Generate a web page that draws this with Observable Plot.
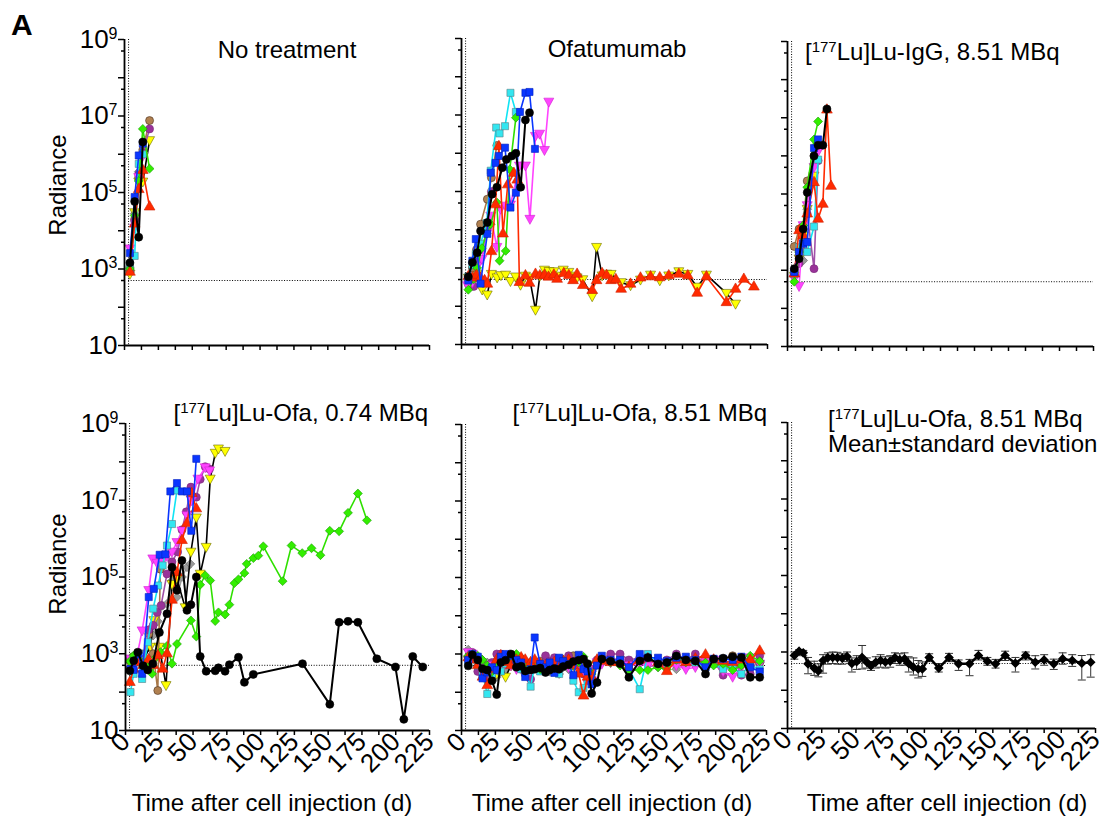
<!DOCTYPE html>
<html><head><meta charset="utf-8">
<script src="https://cdn.jsdelivr.net/npm/d3@7"></script>
<script src="https://cdn.jsdelivr.net/npm/@observablehq/plot@0.6"></script>
<style>
body{margin:0;background:#fff;}
#root{position:relative;width:1120px;height:820px;overflow:hidden;background:#fff;font-family:Arial,"Liberation Sans",sans-serif;}
.panel{position:absolute;}
#overlay{position:absolute;left:0;top:0;pointer-events:none;}
</style>
</head><body><div id="root"></div>
<script>
// ---------- DATA: [day, radiance] ----------
// Panel: No treatment
const nt_grey    = [[4,800],[7.5,2.8e4],[10.5,3.5e5]];
const nt_yellow  = [[4,740],[7.5,3e4],[10.5,1.9e5],[13.5,1.9e5],[18.5,2.3e6]];
const nt_brown   = [[4,1100],[7.5,2e4],[10.5,2.5e5],[13.5,1.3e6],[18.5,7.6e6]];
const nt_purple  = [[4,900],[7.5,1.8e4],[10.5,3e5],[13.5,1.1e6],[18.5,4.6e6]];
const nt_magenta = [[4,3400],[7.5,1.2e4],[10.5,2.5e5],[13.5,9e5]];
const nt_cyan    = [[4,1300],[7.5,2.2e3],[10.5,5.6e5],[13.5,1e6]];
const nt_green   = [[4,1000],[7.5,2.5e4],[10.5,2e5],[13.5,4.6e6],[18.5,4.2e5]];
const nt_red     = [[4,830],[7.5,1.5e4],[10.5,1.2e5],[13.5,3.8e5],[18.5,4.2e4]];
const nt_blue    = [[4,2600],[7.5,7.6e4],[10.5,9.3e5],[13.5,1.9e6]];
const nt_black   = [[4,1450],[7.5,5.8e4],[10.5,6.8e3],[13.5,2.1e6]];

// Panel: Ofatumumab
const of_grey    = [[5,480],[9,1300],[12,2500],[15,1.2e4],[18.5,1.5e4]];
const of_purple  = [[5,380],[9,330],[12,1500],[15,3000],[19,1.1e4],[22,1e5]];
const of_brown   = [[5,600],[8,1000],[11,3000],[14,1.4e4],[19,6.3e4],[22,2.3e5],[26,1.6e6]];
const of_yellow  = [[5,550],[9,450],[11.5,700],[15.2,270],[18.9,200],[22,690],[26.2,560],[29,640],[32.4,660],[36,450],[39.7,590],[43.4,360],[47,620],[50,560],[54.4,80],[57.6,620],[61,890],[64.4,820],[67.9,810],[70.3,620],[74.8,890],[78.9,780],[82,620],[85,560],[89.2,500],[96.1,180],[99.3,3500],[103.4,630],[106.7,700],[110,690],[117.4,420],[124.3,350],[131.6,490],[139,660],[145.8,470],[152.4,630],[159.8,810],[166.4,690],[173.3,320],[180.1,660],[194.8,220],[201.5,115]];
const of_magenta = [[4.5,350],[8,420],[11.5,1100],[15,1700],[18.5,8e3],[21.5,2.3e4],[26,3.5e3],[28.7,3.5e4],[32.4,4.2e4],[36,4.5e4],[42.6,4.7e5],[47,4.7e5],[50.3,1.9e4],[54.4,2.8e6],[57.4,3.2e6],[61,1.2e6],[64.2,2.2e7]];
const of_cyan    = [[5,600],[8,1200],[10.5,2300],[14,4300],[18.5,1.5e4],[21.5,3.5e5],[25.5,4.7e6],[28,3.3e6],[32,5.1e6],[36,3.8e7],[40,1.2e7]];
const of_green   = [[5,270],[9,510],[11.5,1000],[15,3300],[18.5,8e3],[21.5,1.4e4],[26,5.2e4],[28,1.55e3],[32.5,2.8e3],[35.5,3.8e5],[40,8.5e6]];
const of_red     = [[5,600],[8,550],[11,650],[14,550],[17,470],[19,380],[22,2700],[25,4.5e4],[27.5,1.5e6],[30.5,7.8e3],[34,1.5e5],[38.5,3e5],[41,2e5],[42.6,420],[47,630],[50,400],[54.4,690],[57.6,630],[61,650],[64,580],[67.9,660],[70.3,510],[75.2,720],[78.9,640],[82,470],[85,690],[89.2,350],[96.1,260],[99.3,470],[103.4,720],[106.7,640],[110,470],[113.5,500],[117.4,280],[124.3,380],[131.6,550],[139,590],[145.8,560],[152.4,630],[159.8,690],[166.4,630],[173.3,220],[180.1,590],[194.8,125],[201.5,280],[207.6,510],[215,320]];
const of_blue    = [[5,470],[8,1550],[10.5,5700],[14,390],[19,7800],[21.5,3.1e5],[25,5.6e5],[27.5,8.5e5],[32,1.4e6],[36,3.8e4],[40,9.3e4],[43,1.2e7],[47,3.8e7],[50,4e7],[54,1.3e6]];
const of_black   = [[5,590],[8,1400],[11.5,2500],[14,9300],[19,1.55e4],[22.5,8.5e4],[26,1.3e5],[30,4.2e5],[33,6.9e5],[37,8.5e5],[40,1e6],[43.5,1.3e5],[47,7.4e6],[50,1.15e7]];

// Panel: [177Lu]Lu-IgG, 8.51 MBq
const ig_grey    = [[5,900],[8.5,1500],[11.5,1800],[14.5,4e4]];
const ig_yellow  = [[5,700],[8.5,2000],[11.5,8e3],[14.5,4e4],[19.5,3e5]];
const ig_brown   = [[5,4200],[8.5,1.2e4],[11.5,1.5e4],[14.5,2.2e5],[19.5,1e6]];
const ig_purple  = [[5,1000],[8.5,1500],[11.5,4e3],[14.5,3e4],[19.5,1.1e3],[22.5,7.5e5]];
const ig_magenta = [[5,600],[8.5,380],[11.5,1.5e4],[14.5,5e4],[19.5,5e5],[22.5,1.3e6]];
const ig_cyan    = [[5,800],[8.5,4000],[11.5,6e3],[14.5,3e3],[19.5,1.4e4],[22.5,8e5]];
const ig_green   = [[5,500],[8.5,3000],[11.5,1.5e4],[14.5,1.5e5],[19.5,2.7e6],[22.5,8e6]];
const ig_red     = [[5,800],[8.5,1.1e4],[11.5,8e3],[14.5,3e4],[19.5,2e5],[22.5,2.2e4],[26,5.4e4],[29,1.6e7],[32,1.6e5]];
const ig_blue    = [[5,900],[8.5,3000],[11.5,5e3],[14.5,5.5e3],[19.5,1.6e6],[22.5,2.7e6]];
const ig_black   = [[5,1100],[8.5,2000],[11.5,1.2e4],[14.5,1.1e5],[19.5,1e6],[22.5,1.9e6],[26,1.9e6],[29,1.7e7]];

// Panel: [177Lu]Lu-Ofa, 0.74 MBq
const lo_grey    = [[3.2,600],[9,800],[13,500],[17,1500],[20.5,3e3],[24,7e3],[27.5,1.8e4],[30.7,2e4],[34.4,8e4],[38.1,3e4],[41.8,1e5],[45.5,1.8e5],[48,2.2e5]];
const lo_brown   = [[3.2,700],[6.1,850],[9,900],[13,600],[17.2,3.3e3],[20.5,1e3],[23.9,110],[25.8,1.6e5],[30,3.8e5]];
const lo_purple  = [[3.2,400],[9,900],[13,600],[17.2,4.2e3],[20.5,5.5e3],[23.4,1.2e4],[26.3,1.8e4],[30.7,1.2e5],[34.4,2.5e5],[38.6,4.5e5],[41.8,1.7e6],[45,5e6],[48.4,2.2e7],[52.4,1.2e7],[55.3,3.5e7],[59,7.5e7],[62.2,6.5e7]];
const lo_magenta = [[3.2,740],[8,700],[12.3,4e3],[17.2,4.5e4],[20.2,3e5],[23.4,2.3e5],[27,2.5e5],[30.7,3.5e5],[34.4,4.5e5],[38.1,8e5],[41.8,1.6e6],[45.5,4e6],[49,9.8e6],[53.6,3.6e7],[59,7.1e7],[62.2,5.9e7]];
const lo_cyan    = [[3.7,100],[6,300],[9,700],[12.3,220],[16.5,2e3],[20.5,1.5e4],[24.1,6e4],[27.5,2e5],[30.7,6.6e5],[34.4,2.4e6],[38.1,1.8e7]];
const lo_red     = [[3.2,180],[6,400],[9,600],[13,500],[17,700],[20.5,500],[23.9,900],[27.5,400],[30.7,1000],[34.4,2.5e4],[38.1,1.3e5],[41.8,9e5],[45.5,2.5e6],[49,1.5e7],[52.4,6e6]];
const lo_blue    = [[3.7,400],[6,380],[9.8,1000],[12.3,300],[17.2,3e4],[20.9,4.9e4],[25.3,3.8e5],[29.5,3.9e5],[33.2,1.7e7],[38.1,2.8e7],[41.8,1.7e7],[45.5,1.7e7],[48.7,1.6e6],[52.4,1.2e8]];
const lo_yellow  = [[3.5,560],[7,800],[10,1000],[13,700],[18.4,1500],[21,7400],[25,1500],[30,150],[34.4,6.5e4],[38,9e4],[44.2,1.6e4],[48.4,4.5e5],[52.4,3.5e6],[55.3,1.2e5],[59.7,6e5],[62.7,3.6e7],[66.4,1.7e8],[68.8,2.2e8],[73.7,1.9e8]];
const lo_green   = [[3.2,640],[6,900],[9,1000],[13,600],[16.5,450],[19.7,300],[22.5,800],[25.8,1100],[30.7,1600],[34.4,550],[38.1,1800],[48.4,7400],[52.4,2800],[55.3,6.3e4],[59,1.1e5],[62.7,8.1e4],[66.4,7.1e3],[68.8,1.2e4],[73.7,1.05e4],[76.9,1.9e4],[80.6,6.9e4],[83.6,8.7e4],[88,1.26e5],[89.7,2.2e5],[94.6,3.1e5],[98.3,3.6e5],[102,6.3e5],[116.3,7.8e4],[122.9,6.6e5],[130.8,4.2e5],[137.7,5.6e5],[144.3,3.7e5],[151.2,1.6e6],[158.1,1.55e6],[164.7,4.7e6],[172,1.5e7],[178.7,3e6]];
const lo_black   = [[3.2,360],[6.1,660],[9.1,1100],[13,490],[16.5,380],[20.2,550],[25.1,3600],[30.7,1.1e4],[34.4,1.8e5],[38.1,4.5e4],[41.8,2.7e5],[45.5,1.35e4],[48.4,1.9e4],[52.4,1e5],[55.3,850],[59.7,350],[66.4,360],[68.8,430],[73.7,350],[76.9,520],[83.6,810],[88,180],[94.6,290],[131,550],[151.2,48],[158.1,6.6e3],[164.7,7e3],[172,6.6e3],[186,740],[199.8,450],[206,19.5],[212.6,850],[220,450]];

// Panel: [177Lu]Lu-Ofa, 8.51 MBq (shared imaging days)
const days5 = [5,8,12,15.5,19,22.5,26,29,32.5,36.5,40.5,44,47,51,54,58,62,65,68.5,72,75,79,82.5,86.5,90,93,96,100,103.5,110,117,123.5,131.5,137.5,145,151.5,158.5,165.5,172.5,180,186,193,200,206.5,213,220];
const hi_grey    = [1300,900,600,700,600,300,250,350,400,700,500,550,450,450,500,380,450,350,400,300,450,400,600,550,450,400,350,550,650,600,600,500,600,500,450,600,400,600,650,600,550,600,450,550,700,600];
const hi_yellow  = [700,800,600,500,400,350,300,600,250,500,600,700,500,550,600,450,500,600,550,500,600,550,500,600,450,500,400,550,null,null,null,null,null,null,null,null,null,null,null,null,null,null,null,null,null,null];
const hi_brown   = [700,900,600,450,500,400,500,600,700,800,600,550,500,600,500,650,600,550,700,700,600,650,900,650,500,500,350,600,650,650,650,600,650,700,650,650,750,700,700,650,700,750,900,750,700,600];
const hi_purple  = [800,1100,350,350,250,600,1000,1000,700,600,550,400,300,220,600,450,900,650,800,450,500,900,600,500,300,200,400,700,750,1000,1000,700,800,800,500,700,1000,700,1000,500,650,280,800,280,300,900];
const hi_magenta = [1100,1000,700,500,450,500,400,450,550,500,400,450,550,500,600,450,500,550,500,600,550,450,650,500,350,400,200,600,550,600,600,500,550,500,500,450,500,400,450,650,700,350,250,450,800,550];
const hi_green   = [900,1000,900,700,500,350,500,700,800,650,1000,800,550,500,600,400,500,450,550,600,700,600,500,600,850,350,300,650,700,600,500,380,380,380,450,400,700,600,650,600,500,550,380,500,900,650];
const hi_red     = [800,700,500,250,150,400,700,900,600,500,700,800,700,600,700,550,500,450,600,500,650,700,500,300,80,250,250,700,650,600,600,450,700,750,600,350,700,600,750,950,700,650,600,700,700,1200];
const hi_cyan    = [650,900,500,300,90,300,450,350,550,600,500,400,350,140,500,350,400,450,350,300,500,600,200,100,130,400,300,600,700,650,700,400,120,1000,600,600,700,650,600,450,550,400,450,300,500,400];
const hi_blue    = [700,1000,850,230,330,450,380,850,1000,900,700,600,250,400,2700,550,450,600,320,800,650,550,280,950,400,350,160,500,900,700,700,450,1000,800,800,650,800,850,700,450,750,750,700,850,450,350];
const hi_black   = [490,950,700,410,380,200,87,600,690,1000,450,480,360,380,400,430,330,380,420,400,470,520,640,690,740,560,93,180,740,650,560,245,660,810,550,600,890,700,660,300,740,780,850,810,245,245];

// Panel: [177Lu]Lu-Ofa, 8.51 MBq, mean ± standard deviation
const days6 = [5,8.5,11.5,15,19.5,22.5,26,29.5,33,36.5,40,43.5,47,50.5,54.5,58,61,64.5,68,71.5,75,78.5,82,85.5,88.5,92,95.5,98.5,103.5,110.5,118,125,133,139.5,146,152,159,166.5,174,181,187.5,194.5,201,208,215,221.5];
const mean6 = [810,1050,950,490,380,320,600,710,720,710,690,760,500,560,720,540,440,540,600,550,575,710,630,660,500,400,360,360,720,380,720,490,490,810,575,490,810,510,810,540,620,490,660,600,510,540];
const low6  = [650,900,800,270,245,224,280,480,500,480,480,560,300,350,360,380,330,380,400,380,400,500,450,450,300,250,210,230,560,300,560,330,240,620,450,380,600,300,620,360,450,350,480,420,185,220];
const high6 = [1000,1150,1100,720,575,490,850,950,1000,980,900,1000,700,800,1480,700,560,750,850,750,800,950,900,950,750,700,600,550,900,500,920,620,640,1100,720,640,1050,720,1000,800,850,650,950,850,810,850];

const xTickLabels = [0,25,50,75,100,125,150,175,200,225];
const xMinorTicks = [12.5,37.5,62.5,87.5,112.5,137.5,162.5,187.5,212.5];
const yDecades = [10,1e2,1e3,1e4,1e5,1e6,1e7,1e8,1e9];
const yMinor = [50,500,5e3,5e4,5e5,5e6,5e7,5e8];
const detectionLimit = 500;
const treatmentDay = 3;

// ---------- STYLES ----------
const FONT = "Arial, 'Liberation Sans', sans-serif";
const triDown = {draw(ctx, size){ const h = Math.sqrt(size/Math.PI)*1.25; ctx.moveTo(-h,-h*0.75); ctx.lineTo(h,-h*0.75); ctx.lineTo(0,h*1.05); ctx.closePath(); }};
const capSym = {draw(ctx, size){ const r = Math.sqrt(size/Math.PI); ctx.moveTo(-r,0); ctx.lineTo(r,0); }};
const styles = {
  black:   {line:"#000000", fill:"#000000", outline:"#000000", symbol:"circle", lw:2},
  red:     {line:"#ff2a00", fill:"#ff2a00", outline:"#d02000", symbol:"triangle", lw:1.6},
  blue:    {line:"#0a36ff", fill:"#0a36ff", outline:"#0020c0", symbol:"square", lw:1.6},
  green:   {line:"#2fe000", fill:"#33ee00", outline:"#159a00", symbol:"diamond2", lw:1.6},
  magenta: {line:"#ff44ff", fill:"#ff44ff", outline:"#d020d0", symbol:triDown, lw:1.6},
  cyan:    {line:"#10e4f4", fill:"#33e6f0", outline:"#5a7f86", symbol:"square", lw:1.6},
  purple:  {line:"#a050a8", fill:"#993399", outline:"#7a2a7a", symbol:"circle", lw:1.6},
  brown:   {line:"#a87848", fill:"#b08050", outline:"#4a3020", symbol:"circle", lw:1.6},
  yellow:  {line:"#000000", fill:"#ffff00", outline:"#6b6b00", symbol:triDown, lw:1.6},
  grey:    {line:"#9a9a9a", fill:"#9a9a9a", outline:"#666666", symbol:"diamond2", lw:1.6}
};

function seriesMarks(name, data, r=4) {
  const s = styles[name];
  return [
    Plot.line(data, {x: d => d[0], y: d => d[1], stroke: s.line, strokeWidth: s.lw}),
    Plot.dot(data.filter(d => d[1] != null), {x: d => d[0], y: d => d[1], symbol: s.symbol, fill: s.fill, stroke: s.outline, strokeWidth: 0.6, r})
  ];
}
function pairs(days, vals){ return days.map((d,i) => [d, vals[i]]); }

const fmtY = d => { const e = Math.round(Math.log10(d)); return e === 1 ? "10" : (e % 2 === 1 ? "10^" + e : ""); };

function makePanel(p) {
  const ml = p.yLabels ? 100 : 12, mr = 14, mt = 10, mb = p.xLabels ? 80 : 16;
  const width = ml + (p.R - p.L) + mr, height = mt + (p.B - p.T) + mb;
  const marks = [
    Plot.ruleX([treatmentDay], {stroke:"#000", strokeWidth:1, strokeDasharray:"1,1.6"}),
    Plot.ruleY([detectionLimit], {x1: () => treatmentDay, x2: () => 225, stroke:"#000", strokeWidth:1, strokeDasharray:"1,1.6"}),
    ...p.marks,
    Plot.axisY({ticks: yMinor, tickSize: 3, tickFormat: () => "", strokeWidth: 1.5, label: null}),
    Plot.axisY({ticks: yDecades, tickSize: 6, tickPadding: 1, tickFormat: p.yLabels ? fmtY : () => "", strokeWidth: 1.5, label: null}),
    Plot.axisX({ticks: xMinorTicks, tickSize: 5, tickFormat: () => "", strokeWidth: 1.5, label: null}),
    Plot.axisX({ticks: xTickLabels, tickSize: 5, tickRotate: -45, tickPadding: 2, tickFormat: p.xLabels ? d => String(d) : () => "", strokeWidth: 1.5, label: null}),
    Plot.ruleX([0], {stroke:"#000", strokeWidth: 1.8}),
    Plot.ruleY([10], {stroke:"#000", strokeWidth: 1.8})
  ];
  const svg = Plot.plot({
    width, height, marginLeft: ml, marginRight: mr, marginTop: mt, marginBottom: mb,
    x: {domain: [0, 225], label: null},
    y: {type: "log", domain: [10, 1e9], label: null},
    style: {fontFamily: FONT, fontSize: "26px", background: "transparent", overflow: "visible", color: "#000", maxWidth: "none"},
    marks
  });
  const sel = d3.select(svg);
  sel.selectAll("text").style("font-size", "26px").style("font-family", FONT);
  sel.selectAll("text").each(function(){
    const m = /^10\^(\d+)$/.exec(this.textContent);
    if (m) { this.textContent = "10"; d3.select(this).append("tspan").attr("dy", -9).style("font-size", "16px").text(m[1]); }
  });
  const div = document.createElement("div");
  div.className = "panel";
  div.style.left = (p.L - ml) + "px";
  div.style.top = (p.T - mt) + "px";
  div.style.width = width + "px";
  div.appendChild(svg);
  document.getElementById("root").appendChild(div);
}

const order = ["grey","yellow","brown","purple","magenta","cyan","green","red","blue","black"];
const panelSets = [
  {L:124, R:429, T:39, B:345, yLabels:true, xLabels:false,
   data:{grey:nt_grey,yellow:nt_yellow,brown:nt_brown,purple:nt_purple,magenta:nt_magenta,cyan:nt_cyan,green:nt_green,red:nt_red,blue:nt_blue,black:nt_black}},
  {L:461, R:767, T:38, B:344, yLabels:false, xLabels:false,
   data:{grey:of_grey,yellow:of_yellow,brown:of_brown,purple:of_purple,magenta:of_magenta,cyan:of_cyan,green:of_green,red:of_red,blue:of_blue,black:of_black}},
  {L:787, R:1093, T:41, B:346, yLabels:false, xLabels:false,
   data:{grey:ig_grey,yellow:ig_yellow,brown:ig_brown,purple:ig_purple,magenta:ig_magenta,cyan:ig_cyan,green:ig_green,red:ig_red,blue:ig_blue,black:ig_black}},
  {L:125, R:429, T:423, B:730, yLabels:true, xLabels:true,
   data:{grey:lo_grey,yellow:lo_yellow,brown:lo_brown,purple:lo_purple,magenta:lo_magenta,cyan:lo_cyan,green:lo_green,red:lo_red,blue:lo_blue,black:lo_black}},
  {L:461, R:766, T:424, B:730, yLabels:false, xLabels:true,
   data:{grey:pairs(days5,hi_grey),yellow:pairs(days5,hi_yellow),brown:pairs(days5,hi_brown),purple:pairs(days5,hi_purple),magenta:pairs(days5,hi_magenta),green:pairs(days5,hi_green),red:pairs(days5,hi_red),cyan:pairs(days5,hi_cyan),blue:pairs(days5,hi_blue),black:pairs(days5,hi_black)}}
];
for (const p of panelSets) {
  p.marks = order.flatMap(n => p.data[n] ? seriesMarks(n, p.data[n]) : []);
  makePanel(p);
}
// Mean ± SD panel
const meanRows = days6.map((d,i) => ({day:d, mean:mean6[i], lo:low6[i], hi:high6[i]}));
makePanel({L:787, R:1095, T:422, B:728, yLabels:false, xLabels:true, marks:[
  Plot.ruleX(meanRows, {x:"day", y1:"lo", y2:"hi", stroke:"#333", strokeWidth:1}),
  Plot.dot(meanRows, {x:"day", y:"lo", symbol: capSym, r:4, stroke:"#333", strokeWidth:1, fill:"none"}),
  Plot.dot(meanRows, {x:"day", y:"hi", symbol: capSym, r:4, stroke:"#333", strokeWidth:1, fill:"none"}),
  Plot.line(meanRows, {x:"day", y:"mean", stroke:"#000", strokeWidth:2.5}),
  Plot.dot(meanRows, {x:"day", y:"mean", symbol:"diamond2", r:3.4, fill:"#000", stroke:"#000"})
]});

// ---------- TEXT OVERLAY ----------
const ov = d3.select("#root").append("svg").attr("id","overlay").attr("width",1120).attr("height",820)
  .style("font-family",FONT).style("font-size","24px");
function title(x, y, anchor, parts){
  const t = ov.append("text").attr("x",x).attr("y",y).attr("text-anchor",anchor).attr("fill","#000");
  let raised = false;
  for (const [txt, sup] of parts) {
    if (sup) { t.append("tspan").attr("dy",-8).attr("font-size",15).text(txt); raised = true; }
    else { t.append("tspan").attr("dy", raised ? 8 : 0).text(txt); raised = false; }
  }
}
ov.append("text").attr("x",11).attr("y",35).attr("font-weight","bold").attr("font-size",30).text("A");
title(287, 58, "middle", [["No treatment"]]);
title(617, 57, "middle", [["Ofatumumab"]]);
title(805, 60, "start", [["["],["177",true],["Lu]Lu-IgG, 8.51 MBq"]]);
title(428, 421, "end", [["["],["177",true],["Lu]Lu-Ofa, 0.74 MBq"]]);
title(767, 421, "end", [["["],["177",true],["Lu]Lu-Ofa, 8.51 MBq"]]);
title(828, 427, "start", [["["],["177",true],["Lu]Lu-Ofa, 8.51 MBq"]]);
title(828, 452, "start", [["Mean\u00B1standard deviation"]]);
for (const cy of [185, 564]) {
  ov.append("text").attr("transform",`translate(66,${cy}) rotate(-90)`).attr("text-anchor","middle").text("Radiance");
}
for (const cx of [272, 612, 947]) {
  ov.append("text").attr("x",cx).attr("y",811).attr("text-anchor","middle").text("Time after cell injection (d)");
}
</script>
</body></html>
